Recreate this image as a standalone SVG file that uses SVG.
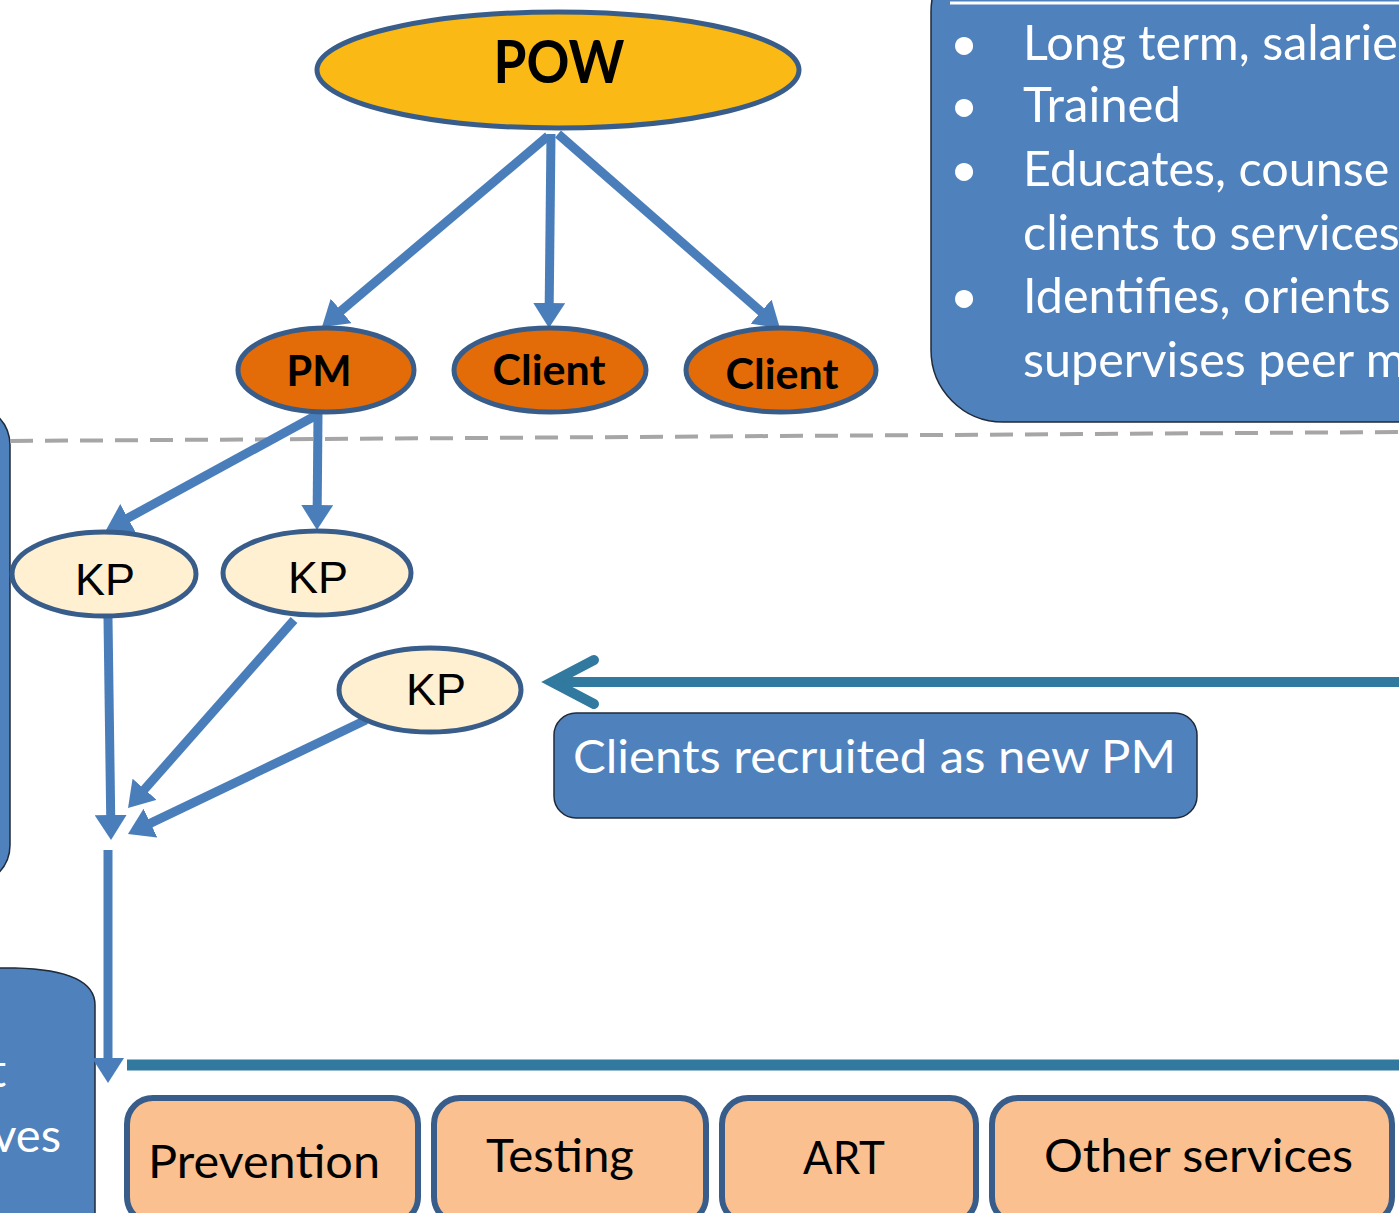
<svg xmlns="http://www.w3.org/2000/svg" width="1399" height="1213" viewBox="0 0 1399 1213">
<defs>
<style>
.panel{fill:#4F81BD;stroke:#1F2A3A;stroke-width:1.5}
.ptxt{font-family:Lato,"Open Sans",sans-serif;fill:#FFFFFF;font-size:47px}
.rtxt{font-family:Lato,"Open Sans",sans-serif;fill:#FFFFFF;font-size:48.5px}
.ell{stroke:#385D8A;stroke-width:5}
.bold{font-family:Lato,"Open Sans",sans-serif;font-weight:bold;fill:#000;text-anchor:middle}
.kp{fill:#FEF0D0}
.kptxt{font-family:"Liberation Sans",Arial,sans-serif;font-size:45px;fill:#000;text-anchor:middle}
.svc{fill:#FAC090;stroke:#385D8A;stroke-width:6}
.svctxt{font-family:Lato,"Open Sans",sans-serif;font-size:47px;fill:#000}
.conn{stroke:#4A7EBB;stroke-width:9;fill:none}
.teal{stroke:#31799F;fill:none}
</style>
<marker id="ah" markerUnits="userSpaceOnUse" markerWidth="26" markerHeight="32" viewBox="0 0 26 32" refX="1" refY="16" orient="auto">
<path d="M0,0 L25,16 L0,32 Z" fill="#4A7EBB"/>
</marker>
</defs>

<g id="panel-right">
<rect class="panel" x="931" y="-60" width="540" height="482" rx="72" ry="72"/>
<line x1="950" y1="3" x2="1399" y2="3" stroke="#FFFFFF" stroke-width="3"/>
<g class="rtxt">
<text x="950" y="60">•</text><text x="1023" y="60">Long term, salarie</text>
<text x="950" y="122">•</text><text x="1023" y="122" textLength="158" lengthAdjust="spacingAndGlyphs">Trained</text>
<text x="950" y="186">•</text><text x="1023" y="186">Educates, counse</text>
<text x="1023" y="250">clients to services</text>
<text x="950" y="313">•</text><text x="1023" y="313">Identifies, orients</text>
<text x="1023" y="377">supervises peer m</text>
</g>
</g>

<g id="panel-left">
<rect class="panel" x="-110" y="405" width="120" height="480" rx="40" ry="40"/>
</g>

<g id="panel-bottom-left">
<path class="panel" d="M-10,968 L15,968 Q95,970 95,1005 L95,1230 L-10,1230 Z"/>
<text class="ptxt" x="6" y="1087" text-anchor="end">t</text>
<text class="ptxt" x="61" y="1152" text-anchor="end">ves</text>
</g>

<line id="divider" x1="10" y1="441" x2="1399" y2="432" stroke="#A6A6A6" stroke-width="4" stroke-dasharray="23 12"/>

<g id="connectors">
<line class="conn" x1="548" y1="136" x2="340.3" y2="311.5" marker-end="url(#ah)"/>
<line class="conn" x1="551" y1="134" x2="549.2" y2="304" marker-end="url(#ah)"/>
<line class="conn" x1="558" y1="134" x2="761.8" y2="312.3" marker-end="url(#ah)"/>
<line class="conn" x1="315" y1="416" x2="127.1" y2="518.5" marker-end="url(#ah)"/>
<line class="conn" x1="318" y1="414" x2="317.2" y2="506" marker-end="url(#ah)"/>
<line class="conn" x1="108" y1="618" x2="110.7" y2="816" marker-end="url(#ah)"/>
<line class="conn" x1="294" y1="620" x2="143.9" y2="790" marker-end="url(#ah)"/>
<line class="conn" x1="366" y1="720" x2="149.6" y2="823.6" marker-end="url(#ah)"/>
<line class="conn" x1="108" y1="850" x2="108" y2="1059" marker-end="url(#ah)"/>
<line class="teal" x1="127" y1="1065" x2="1399" y2="1065" stroke-width="11"/>
<line class="teal" x1="556" y1="682" x2="1399" y2="682" stroke-width="10"/>
<polyline class="teal" points="594,660 552,682 594,704" stroke-width="10" stroke-linecap="round" stroke-linejoin="miter"/>
</g>

<g id="node-pow">
<ellipse class="ell" cx="558" cy="70" rx="241" ry="58" fill="#FAB915"/>
<text class="bold" x="559" y="83" font-size="60" textLength="131" lengthAdjust="spacingAndGlyphs">POW</text>
</g>
<g id="node-pm">
<ellipse class="ell" cx="326" cy="370" rx="88" ry="42" fill="#E36C09"/>
<text class="bold" x="319" y="386" font-size="42" textLength="65" lengthAdjust="spacingAndGlyphs">PM</text>
</g>
<g id="node-client1">
<ellipse class="ell" cx="550" cy="370" rx="96" ry="42" fill="#E36C09"/>
<text class="bold" x="549" y="385" font-size="42" textLength="113" lengthAdjust="spacingAndGlyphs">Client</text>
</g>
<g id="node-client2">
<ellipse class="ell" cx="781" cy="370" rx="95" ry="42" fill="#E36C09"/>
<text class="bold" x="782" y="389" font-size="42" textLength="113" lengthAdjust="spacingAndGlyphs">Client</text>
</g>

<g id="node-kp1">
<ellipse class="ell kp" cx="104" cy="574" rx="92" ry="42"/>
<text class="kptxt" x="105" y="595">KP</text>
</g>
<g id="node-kp2">
<ellipse class="ell kp" cx="317" cy="573" rx="94" ry="42"/>
<text class="kptxt" x="318" y="593">KP</text>
</g>
<g id="node-kp3">
<ellipse class="ell kp" cx="430" cy="690" rx="91" ry="42"/>
<text class="kptxt" x="436" y="705">KP</text>
</g>

<g id="node-recruited">
<rect class="panel" x="554" y="713" width="643" height="105" rx="22" ry="22"/>
<text class="ptxt" x="573" y="773" textLength="603" lengthAdjust="spacingAndGlyphs">Clients recruited as new PM</text>
</g>

<g id="node-prevention">
<rect class="svc" x="127" y="1098" width="291" height="125" rx="26" ry="26"/>
<text class="svctxt" x="148" y="1178" textLength="232" lengthAdjust="spacingAndGlyphs">Prevention</text>
</g>
<g id="node-testing">
<rect class="svc" x="434" y="1098" width="272" height="125" rx="26" ry="26"/>
<text class="svctxt" x="486" y="1172" textLength="148" lengthAdjust="spacingAndGlyphs">Testing</text>
</g>
<g id="node-art">
<rect class="svc" x="722" y="1098" width="254" height="125" rx="26" ry="26"/>
<text class="svctxt" x="803" y="1174" textLength="82" lengthAdjust="spacingAndGlyphs">ART</text>
</g>
<g id="node-other">
<rect class="svc" x="992" y="1098" width="400" height="125" rx="26" ry="26"/>
<text class="svctxt" x="1044" y="1172" textLength="309" lengthAdjust="spacingAndGlyphs">Other services</text>
</g>
</svg>
